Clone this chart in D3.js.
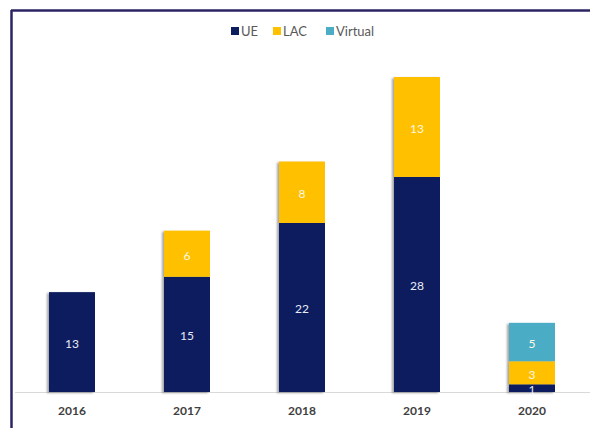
<!DOCTYPE html>
<html lang="en">
<head>
<meta charset="UTF-8">
<title>Stacked bars</title>
<script src="https://d3js.org/d3.v7.min.js"></script>
<style>
  html, body { margin:0; padding:0; background:#fff; overflow:hidden; }
  text { font-family: Lato, "Open Sans", sans-serif; }
</style>
</head>
<body>
<div id="chart"></div>
<script>
const years=["2016","2017","2018","2019","2020"];
const seriesNames=["UE","LAC","Virtual"];
const ue=[13,15,22,28,1];
const lac=[0,6,8,13,3];
const virtual=[0,0,0,0,5];
const colors=["#0b1f5e","#ffc000","#4bacc6"];

const width=590,height=428;
const svg=d3.select("#chart").append("svg").attr("width",width).attr("height",height);

// frame lines (top + left)
svg.append("line").attr("x1",11).attr("x2",width).attr("y1",10.5).attr("y2",10.5)
  .attr("stroke","#2b2463").attr("stroke-width",2.5);
svg.append("line").attr("x1",11.5).attr("x2",11.5).attr("y1",10).attr("y2",height)
  .attr("stroke","#2b2463").attr("stroke-width",2.5);

const rows=years.map((y,i)=>({year:y,UE:ue[i],LAC:lac[i],Virtual:virtual[i]}));
const stack=d3.stack().keys(seriesNames)(rows);

const x=d3.scaleBand().domain(years).range([14.5,589.5]).paddingInner(0.6).paddingOuter(0.3);
const y=d3.scaleLinear().domain([0,41]).range([392,77]);

const defs=svg.append("defs");
const f=defs.append("filter").attr("id","sh").attr("x","-20%").attr("y","-5%").attr("width","140%").attr("height","110%");
f.append("feDropShadow").attr("dx",-2).attr("dy",1).attr("stdDeviation",1.2).attr("flood-color","#000").attr("flood-opacity",0.35);

// baseline
svg.append("line").attr("x1",15).attr("x2",width).attr("y1",392.5).attr("y2",392.5)
  .attr("stroke","#d9d9d9").attr("stroke-width",1);

const g=svg.append("g").attr("filter","url(#sh)");
stack.forEach((s,k)=>{
  g.selectAll(null).data(s.filter(d=>d[1]>d[0])).enter().append("rect")
    .attr("x",d=>x(d.data.year)).attr("width",x.bandwidth())
    .attr("y",d=>y(d[1])).attr("height",d=>y(d[0])-y(d[1]))
    .attr("fill",colors[k]);
});
stack.forEach((s,k)=>{
  svg.selectAll(null).data(s.filter(d=>d[1]>d[0])).enter().append("text")
    .attr("x",d=>x(d.data.year)+x.bandwidth()/2)
    .attr("y",d=>(y(d[0])+y(d[1]))/2+6)
    .attr("text-anchor","middle").attr("font-size",12)
    .attr("fill",k===0?"#e8ecf5":"#fff8e6")
    .text(d=>d[1]-d[0]);
});

// x labels
svg.selectAll(null).data(years).enter().append("text")
  .attr("x",d=>x(d)+x.bandwidth()/2).attr("y",415)
  .attr("text-anchor","middle").attr("font-size",12).attr("font-weight","bold")
  .attr("fill","#404040").text(d=>d);

// legend
const legX=[231,273,326];
const leg=svg.append("g");
seriesNames.forEach((n,i)=>{
  leg.append("rect").attr("x",legX[i]).attr("y",27).attr("width",8).attr("height",8).attr("fill",colors[i]);
  leg.append("text").attr("x",legX[i]+10).attr("y",36).attr("font-size",13)
    .attr("fill","#595959").text(n);
});
</script>
</body>
</html>
